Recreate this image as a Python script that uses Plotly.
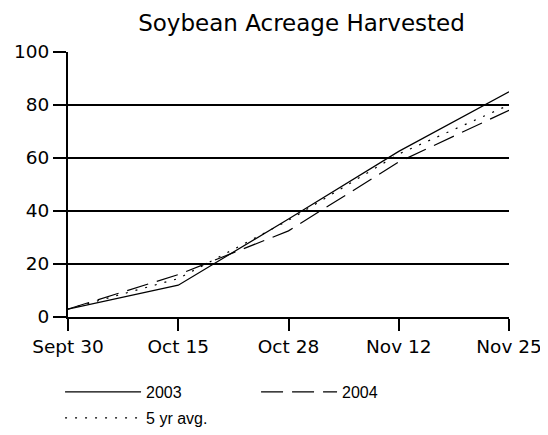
import plotly.graph_objects as go

categories = ["Sept 30", "Oct 15", "Oct 28", "Nov 12", "Nov 25"]
y2003 = [3, 12, 37, 62.5, 85]
y2004 = [3, 16, 32.5, 58.5, 78]
y5yr = [3, 14.5, 36.5, 61.5, 80]
yticks = [0, 20, 40, 60, 80, 100]

font = "DejaVu Sans, Verdana, sans-serif"
lfont = "Liberation Sans, Arial, sans-serif"

fig = go.Figure()
fig.add_trace(go.Scatter(x=categories, y=y2003, mode="lines", name="2003",
                         legend="legend",
                         line=dict(color="black", width=1.2)))
fig.add_trace(go.Scatter(x=categories, y=y2004, mode="lines", name="2004",
                         legend="legend",
                         line=dict(color="black", width=1.2, dash="22px,9px")))
fig.add_trace(go.Scatter(x=categories, y=y5yr, mode="lines", name="5 yr avg.",
                         legend="legend2",
                         line=dict(color="black", width=1.2, dash="2px,8px")))

legend_common = dict(orientation="h", xanchor="left", yanchor="middle",
                     entrywidth=105, entrywidthmode="pixels", itemwidth=76,
                     font=dict(family=lfont, size=16, color="black"),
                     bgcolor="rgba(0,0,0,0)", borderwidth=0)

fig.update_layout(
    width=540, height=427,
    margin=dict(l=60, r=39, t=44, b=118, autoexpand=False),
    paper_bgcolor="white", plot_bgcolor="white",
    title=dict(text="Soybean Acreage Harvested", x=0.5435, xanchor="center",
               xref="container", yref="container",
               y=0.966, yanchor="middle",
               font=dict(family=font, size=23, color="black")),
    font=dict(family=font, size=18, color="black"),
    showlegend=True,
    legend=dict(x=-0.018, y=-0.283, **legend_common),
    legend2=dict(x=-0.018, y=-0.381, **legend_common),
    xaxis=dict(type="category", range=[0, 4], showgrid=False,
               showline=True, linecolor="black", linewidth=2,
               ticks="outside", ticklen=12, tickwidth=2, tickcolor="black",
               tickfont=dict(family=font, size=18.5, color="black"),
               zeroline=False, fixedrange=True, automargin=False),
    yaxis=dict(range=[0, 100], tickvals=yticks, showgrid=True,
               gridcolor="black", gridwidth=2,
               showline=True, linecolor="black", linewidth=2,
               ticks="outside", ticklen=13, tickwidth=2, tickcolor="black",
               tickfont=dict(family=font, size=18.5, color="black"),
               zeroline=False, fixedrange=True, automargin=False),
)

fig.write_html("out.html")
